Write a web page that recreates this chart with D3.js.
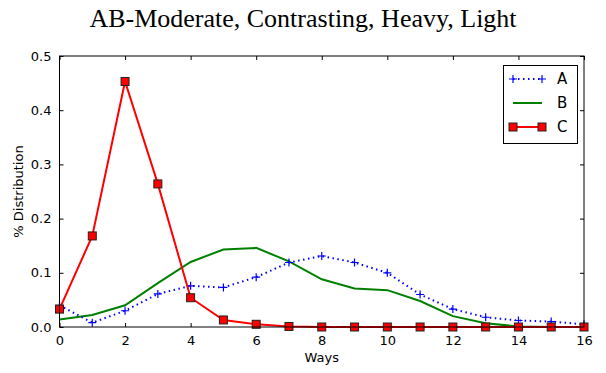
<!DOCTYPE html>
<html><head><meta charset="utf-8">
<script src="https://cdn.jsdelivr.net/npm/d3@7"></script>
<style>body{margin:0;background:#fff}svg{display:block}</style>
</head><body>
<svg id="c" width="606" height="373"></svg>
<script>
const ways = [0,1,2,3,4,5,6,7,8,9,10,11,12,13,14,15,16];
const seriesA = [0.040,0.008,0.030,0.061,0.076,0.073,0.092,0.119,0.131,0.119,0.100,0.060,0.033,0.018,0.012,0.010,0.005];
const seriesB = [0.014,0.022,0.040,0.081,0.120,0.143,0.146,0.121,0.088,0.071,0.068,0.048,0.020,0.007,0.001,0.000,0.000];
const seriesC = [0.033,0.168,0.453,0.264,0.054,0.013,0.005,0.001,0.000,0.000,0.000,0.000,0.000,0.000,0.000,0.000,0.000];
const xTicks = [0,2,4,6,8,10,12,14,16];
const yTicks = [0,0.1,0.2,0.3,0.4,0.5];
const names = ["A","B","C"];
const title = "AB-Moderate, Contrasting, Heavy, Light";

const svg = d3.select("#c");
const L=59.5, R=584, T=56, B=327;
const x = d3.scaleLinear().domain([0,16]).range([L,R]);
const y = d3.scaleLinear().domain([0,0.5]).range([B,T]);
const font = "DejaVu Sans, sans-serif";

svg.append("text").attr("x",303).attr("y",27).attr("text-anchor","middle")
  .attr("font-family","Liberation Serif, DejaVu Serif, serif").attr("font-size",26).text(title);

const g = svg.append("g");
const clip = svg.append("clipPath").attr("id","cl").append("rect")
  .attr("x",L-6).attr("y",T).attr("width",R-L+12).attr("height",B-T+6);

// axes with inward ticks
const axB = g.append("g").attr("transform",`translate(0,${B})`)
  .call(d3.axisBottom(x).tickValues(xTicks).tickSizeInner(-4).tickSizeOuter(0).tickPadding(9).tickFormat(d3.format("d")));
const axT = g.append("g").attr("transform",`translate(0,${T})`)
  .call(d3.axisTop(x).tickValues(xTicks).tickSizeInner(-4).tickSizeOuter(0).tickFormat(""));
const axL = g.append("g").attr("transform",`translate(${L},0)`)
  .call(d3.axisLeft(y).tickValues(yTicks).tickSizeInner(-4).tickSizeOuter(0).tickPadding(8).tickFormat(d3.format(".1f")));
const axR = g.append("g").attr("transform",`translate(${R},0)`)
  .call(d3.axisRight(y).tickValues(yTicks).tickSizeInner(-4).tickSizeOuter(0).tickFormat(""));
[axB,axT,axL,axR].forEach(a=>{
  a.selectAll(".domain").remove();
  a.selectAll("line").attr("stroke","#000");
  a.selectAll("text").attr("font-family",font).attr("font-size",13).attr("fill","#000");
});

const line = d3.line().x((d,i)=>x(ways[i])).y(d=>y(d));
const pg = svg.append("g").attr("clip-path","url(#cl)");

// B green
pg.append("path").datum(seriesB).attr("d",line).attr("fill","none").attr("stroke","#008000").attr("stroke-width",2);
// A blue dotted with +
pg.append("path").datum(seriesA).attr("d",line).attr("fill","none").attr("stroke","#0000ff")
  .attr("stroke-width",2).attr("stroke-dasharray","1.5,3.5");
function plus(sel, cx, cy){
  sel.append("path").attr("d",`M${cx-4},${cy}H${cx+4}M${cx},${cy-4}V${cy+4}`).attr("stroke","#0000ff").attr("stroke-width",1.2);
}
seriesA.forEach((d,i)=>plus(pg, x(ways[i]), y(d)));
// C red with squares
pg.append("path").datum(seriesC).attr("d",line).attr("fill","none").attr("stroke","#ff0000").attr("stroke-width",2);
pg.selectAll("rect.m").data(seriesC).join("rect").attr("class","m")
  .attr("x",(d,i)=>x(ways[i])-4).attr("y",d=>y(d)-4).attr("width",8).attr("height",8)
  .attr("fill","#ff0000").attr("stroke","#222").attr("stroke-width",1);

// frame
svg.append("rect").attr("x",L).attr("y",T).attr("width",R-L).attr("height",B-T)
  .attr("fill","none").attr("stroke","#000").attr("stroke-width",1);

// labels
svg.append("text").attr("x",(L+R)/2).attr("y",362).attr("text-anchor","middle")
  .attr("font-family",font).attr("font-size",13).text("Ways");
svg.append("text").attr("transform",`translate(23,${(T+B)/2}) rotate(-90)`).attr("text-anchor","middle")
  .attr("font-family",font).attr("font-size",13).text("% Distribution");

// legend
const lg = svg.append("g");
lg.append("rect").attr("x",503.5).attr("y",65.5).attr("width",74).attr("height",78)
  .attr("fill","#fff").attr("stroke","#000").attr("stroke-width",1);
const ly = [79,103,127];
const lx1=513, lx2=542;
lg.append("line").attr("x1",lx1).attr("x2",lx2).attr("y1",ly[0]).attr("y2",ly[0]).attr("stroke","#0000ff")
  .attr("stroke-width",2).attr("stroke-dasharray","1.5,3.5");
plus(lg,lx1,ly[0]); plus(lg,lx2,ly[0]);
lg.append("line").attr("x1",lx1).attr("x2",lx2).attr("y1",ly[1]).attr("y2",ly[1]).attr("stroke","#008000").attr("stroke-width",2);
lg.append("line").attr("x1",lx1).attr("x2",lx2).attr("y1",ly[2]).attr("y2",ly[2]).attr("stroke","#ff0000").attr("stroke-width",2);
[lx1,lx2].forEach(px=>lg.append("rect").attr("x",px-4).attr("y",ly[2]-4).attr("width",8).attr("height",8)
  .attr("fill","#ff0000").attr("stroke","#222").attr("stroke-width",1));
names.forEach((n,i)=>lg.append("text").attr("x",557).attr("y",ly[i]+5).attr("font-family",font).attr("font-size",15).text(n));
</script>
</body></html>
